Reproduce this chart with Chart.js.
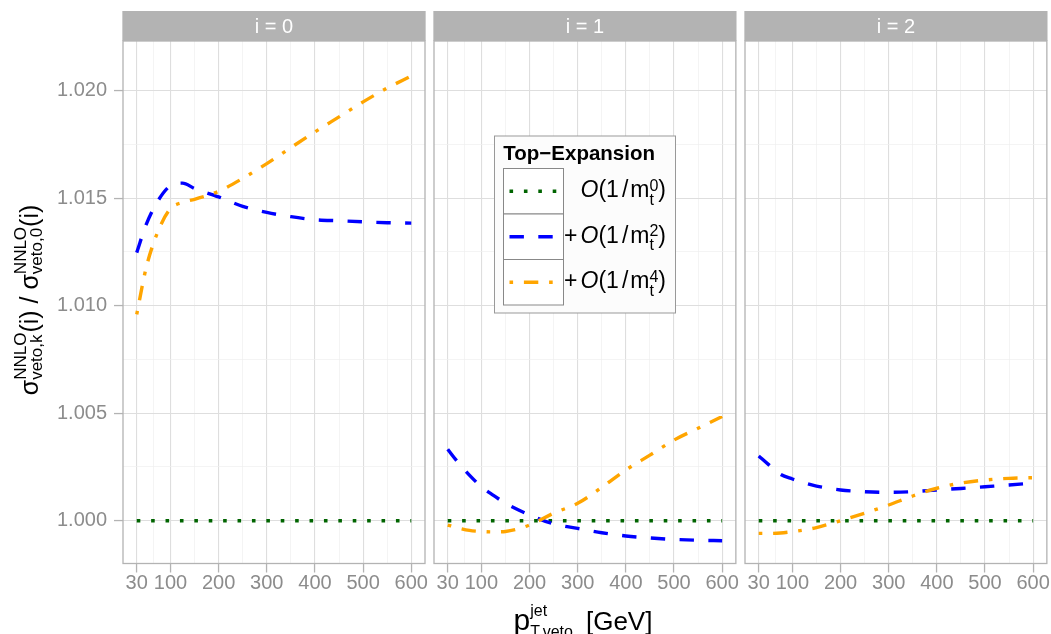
<!DOCTYPE html>
<html><head><meta charset="utf-8">
<script src="https://cdn.jsdelivr.net/npm/chart.js@4"></script>
<style>
html,body{margin:0;padding:0;background:#fff;}
body{width:1051px;height:634px;position:relative;overflow:hidden;}
canvas{position:absolute;top:0;}
</style></head><body>
<canvas id="c0" width="432" height="634" style="left:0px"></canvas>
<canvas id="c1" width="310" height="634" style="left:430px"></canvas>
<canvas id="c2" width="311" height="634" style="left:740px"></canvas>
<script>
// ---------- data ----------
const pTveto = [30, 50, 75, 100, 125, 150, 200, 250, 300, 350, 400, 450, 500, 550, 600];
const xMajorTicks = [30, 100, 200, 300, 400, 500, 600];
const xMinorTicks = [65, 150, 250, 350, 450, 550];
const yMajorTicks = [1.000, 1.005, 1.010, 1.015, 1.020];
const yMinorTicks = [1.0025, 1.0075, 1.0125, 1.0175];
const panelNames = ['i = 0', 'i = 1', 'i = 2'];
const legendTitle = 'Top\u2212Expansion';
const expansionOrders = ['0', '2', '4'];

const m0_i0 = [1.000, 1.000, 1.000, 1.000, 1.000, 1.000, 1.000, 1.000, 1.000, 1.000, 1.000, 1.000, 1.000, 1.000, 1.000];
const m2_i0 = [1.01247, 1.01379, 1.01491, 1.01558, 1.01570, 1.01545, 1.01506, 1.01462, 1.01434, 1.01414, 1.01400, 1.01395, 1.01390, 1.01386, 1.01384];
const m4_i0 = [1.00960, 1.01180, 1.01350, 1.01451, 1.01480, 1.01495, 1.01532, 1.01592, 1.01661, 1.01735, 1.01808, 1.01878, 1.01948, 1.02012, 1.02068];

const m0_i1 = [1.000, 1.000, 1.000, 1.000, 1.000, 1.000, 1.000, 1.000, 1.000, 1.000, 1.000, 1.000, 1.000, 1.000, 1.000];
const m2_i1 = [1.00332, 1.00275, 1.00212, 1.00158, 1.00118, 1.00081, 1.00027, 0.99985, 0.99964, 0.99944, 0.99929, 0.99920, 0.99913, 0.99909, 0.99907];
const m4_i1 = [0.99980, 0.99967, 0.99955, 0.99950, 0.99948, 0.99950, 0.99980, 1.00035, 1.00081, 1.00155, 1.00236, 1.00305, 1.00375, 1.00430, 1.00485];

const m0_i2 = [1.000, 1.000, 1.000, 1.000, 1.000, 1.000, 1.000, 1.000, 1.000, 1.000, 1.000, 1.000, 1.000, 1.000, 1.000];
const m2_i2 = [1.00301, 1.00262, 1.00216, 1.00194, 1.00176, 1.00161, 1.00143, 1.00135, 1.00132, 1.00135, 1.00143, 1.00150, 1.00158, 1.00166, 1.00175];
const m4_i2 = [0.99941, 0.99941, 0.99943, 0.99949, 0.99957, 0.99968, 1.00000, 1.00035, 1.00073, 1.00115, 1.00151, 1.00175, 1.00189, 1.00197, 1.00200];

// ---------- styles ----------
const FF = '"Liberation Sans", Arial, Helvetica, sans-serif';
const seriesStyle = [
  {color: '#006400', dash: [3.6, 10.8]},
  {color: '#0000FF', dash: [14.4, 14.4]},
  {color: '#FFA500', dash: [3.6, 10.8, 14.4, 10.8]}
];
const LW = 3.4;
const panelData = [[m0_i0, m2_i0, m4_i0], [m0_i1, m2_i1, m4_i1], [m0_i2, m2_i2, m4_i2]];

const near = (a, b) => Math.abs(a - b) < 1e-9;
const isMajorX = v => xMajorTicks.some(t => near(t, v));
const isMajorY = v => yMajorTicks.some(t => near(t, v));
const tv = c => (c && c.tick) ? c.tick.value : NaN;

function drawMath(ctx, items, x, y, draw) {
  let cx = x;
  for (const it of items) {
    if (it.gap !== undefined) { cx += it.gap; continue; }
    if (it.stack) {
      let w = 0;
      for (const s of it.stack) {
        ctx.font = s.f;
        if (draw) ctx.fillText(s.t, cx, y + s.dy);
        w = Math.max(w, ctx.measureText(s.t).width);
      }
      cx += w;
    } else {
      ctx.font = it.f;
      if (draw) ctx.fillText(it.t, cx, y + (it.dy || 0));
      cx += ctx.measureText(it.t).width;
    }
  }
  return cx - x;
}

function drawYTitle(ctx) {
  const main = '25px ' + FF, scr = '17px ' + FF;
  const items = [
    {t: '\u03C3', f: main},
    {stack: [{t: 'NNLO', f: scr, dy: -12}, {t: 'veto,k', f: scr, dy: 4}]},
    {t: '(i)', f: main},
    {t: ' / ', f: main},
    {t: '\u03C3', f: main},
    {stack: [{t: 'NNLO', f: scr, dy: -12}, {t: 'veto,0', f: scr, dy: 4}]},
    {t: '(i)', f: main}
  ];
  ctx.save();
  ctx.translate(38, 300);
  ctx.rotate(-Math.PI / 2);
  ctx.fillStyle = '#000'; ctx.textAlign = 'left'; ctx.textBaseline = 'alphabetic';
  const w = drawMath(ctx, items, 0, 0, false);
  drawMath(ctx, items, -w / 2, 0, true);
  ctx.restore();
}

function drawXTitle(ctx) {
  const items = [
    {t: 'p', f: '30px ' + FF},
    {stack: [{t: 'jet', f: '16px ' + FF, dy: -14}, {t: 'T,veto', f: '16px ' + FF, dy: 7.5}]},
    {gap: 13},
    {t: '[GeV]', f: '26px ' + FF}
  ];
  ctx.save();
  ctx.fillStyle = '#000'; ctx.textAlign = 'left'; ctx.textBaseline = 'alphabetic';
  const w = drawMath(ctx, items, 0, 0, false);
  drawMath(ctx, items, 583 - w / 2, 629.5, true);
  ctx.restore();
}

function legendItems(order, plus) {
  const main = '23px ' + FF, it = 'italic 23px ' + FF, scr = '16px ' + FF;
  const a = [];
  if (plus) a.push({t: '+', f: main}, {gap: 3});
  a.push({t: 'O', f: it}, {t: '(1', f: main}, {gap: 3}, {t: '/', f: main}, {gap: 2}, {t: 'm', f: main},
    {stack: [{t: order, f: scr, dy: -6.5}, {t: 't', f: scr, dy: 7.5}]}, {t: ')', f: main});
  return a;
}

function drawLegend(ctx) {
  ctx.save();
  ctx.fillStyle = '#FCFCFC';
  ctx.fillRect(494.5, 136, 181, 177);
  ctx.strokeStyle = '#999999'; ctx.lineWidth = 1;
  ctx.strokeRect(494.5, 136, 181, 177);
  ctx.fillStyle = '#000'; ctx.textAlign = 'left'; ctx.textBaseline = 'alphabetic';
  ctx.font = 'bold 20.5px ' + FF;
  ctx.fillText(legendTitle, 503.3, 160);
  const tops = [168.5, 214, 259.5];
  const bases = [197, 242.6, 288.3];
  for (let s = 0; s < 3; s++) {
    ctx.fillStyle = '#FFFFFF';
    ctx.fillRect(503.5, tops[s], 60, 45.5);
    ctx.strokeStyle = '#888888'; ctx.lineWidth = 1;
    ctx.strokeRect(503.5, tops[s], 60, 45.5);
    const cy = tops[s] + 22.75;
    ctx.save();
    ctx.beginPath();
    ctx.strokeStyle = seriesStyle[s].color;
    ctx.lineWidth = LW;
    ctx.lineCap = 'butt';
    ctx.setLineDash(seriesStyle[s].dash);
    ctx.moveTo(509.5, cy); ctx.lineTo(557.5, cy);
    ctx.stroke();
    ctx.restore();
    ctx.fillStyle = '#000';
    const items = legendItems(expansionOrders[s], s > 0);
    const w = drawMath(ctx, items, 0, 0, false);
    drawMath(ctx, items, 666 - w, bases[s], true);
  }
  ctx.restore();
}

function makePanel(k, canvasId, padL, padR, offsetX, showY) {
  const series = panelData[k];
  const datasets = series.map((arr, s) => ({
    label: 'order ' + expansionOrders[s],
    data: pTveto.map((x, j) => ({x: x, y: arr[j]})),
    borderColor: seriesStyle[s].color,
    borderDash: seriesStyle[s].dash,
    borderWidth: LW,
    pointRadius: 0,
    fill: false,
    cubicInterpolationMode: 'monotone',
    borderCapStyle: 'butt',
    borderJoinStyle: 'round',
    order: 3 - s
  }));
  const facetPlugin = {
    id: 'facet' + k,
    afterDraw(chart) {
      const ctx = chart.ctx, a = chart.chartArea;
      ctx.save();
      ctx.strokeStyle = '#B3B3B3'; ctx.lineWidth = 1.3;
      ctx.strokeRect(a.left, a.top, a.right - a.left, a.bottom - a.top);
      ctx.fillStyle = '#B3B3B3';
      ctx.fillRect(a.left - 0.65, 11, a.right - a.left + 1.3, a.top - 11);
      ctx.fillStyle = '#FFFFFF';
      ctx.font = '20px ' + FF;
      ctx.textAlign = 'center'; ctx.textBaseline = 'alphabetic';
      ctx.fillText(panelNames[k], (a.left + a.right) / 2, 33.3);
      ctx.restore();
      ctx.save();
      ctx.translate(-offsetX, 0);
      if (k === 0) drawYTitle(ctx);
      if (k === 1) { drawLegend(ctx); drawXTitle(ctx); }
      ctx.restore();
    }
  };
  const yScale = {
    type: 'linear', min: 0.99801, max: 1.02231,
    afterBuildTicks: s => { s.ticks = [...yMajorTicks, ...yMinorTicks].sort((a, b) => a - b).map(v => ({value: v})); },
    afterFit: s => { s.width = showY ? 123 : 0; },
    border: {display: false},
    grid: {
      color: c => isMajorY(tv(c)) ? '#DEDEDE' : '#EFEFEF',
      lineWidth: c => isMajorY(tv(c)) ? 1.1 : 0.7,
      drawTicks: showY,
      tickLength: 9,
      tickColor: c => isMajorY(tv(c)) ? '#B3B3B3' : 'rgba(0,0,0,0)',
      tickWidth: 1.3
    },
    ticks: {
      display: showY,
      autoSkip: false,
      padding: 7,
      color: '#8C8C8C',
      font: {family: FF, size: 20},
      callback: v => isMajorY(v) ? v.toFixed(3) : ''
    }
  };
  const xScale = {
    type: 'linear', min: 1.5, max: 628.5,
    afterBuildTicks: s => { s.ticks = [...xMajorTicks, ...xMinorTicks].sort((a, b) => a - b).map(v => ({value: v})); },
    afterFit: s => { s.height = 70.5; },
    border: {display: false},
    grid: {
      color: c => isMajorX(tv(c)) ? '#DEDEDE' : '#EFEFEF',
      lineWidth: c => isMajorX(tv(c)) ? 1.1 : 0.7,
      drawTicks: true,
      tickLength: 9,
      tickColor: c => isMajorX(tv(c)) ? '#B3B3B3' : 'rgba(0,0,0,0)',
      tickWidth: 1.3
    },
    ticks: {
      autoSkip: false,
      maxRotation: 0, minRotation: 0,
      padding: 1,
      color: '#8C8C8C',
      font: {family: FF, size: 20, lineHeight: 1},
      callback: v => isMajorX(v) ? String(v) : ''
    }
  };
  return new Chart(document.getElementById(canvasId), {
    type: 'line',
    data: {datasets: datasets},
    options: {
      responsive: false,
      animation: false,
      events: [],
      layout: {padding: {top: 41, left: padL, right: padR, bottom: 0}},
      plugins: {legend: {display: false}, tooltip: {enabled: false}},
      scales: {x: xScale, y: yScale}
    },
    plugins: [facetPlugin]
  });
}

makePanel(0, 'c0', 0, 7, 0, true);
makePanel(1, 'c1', 4, 4, 430, false);
makePanel(2, 'c2', 5, 4, 740, false);
</script>
</body></html>
